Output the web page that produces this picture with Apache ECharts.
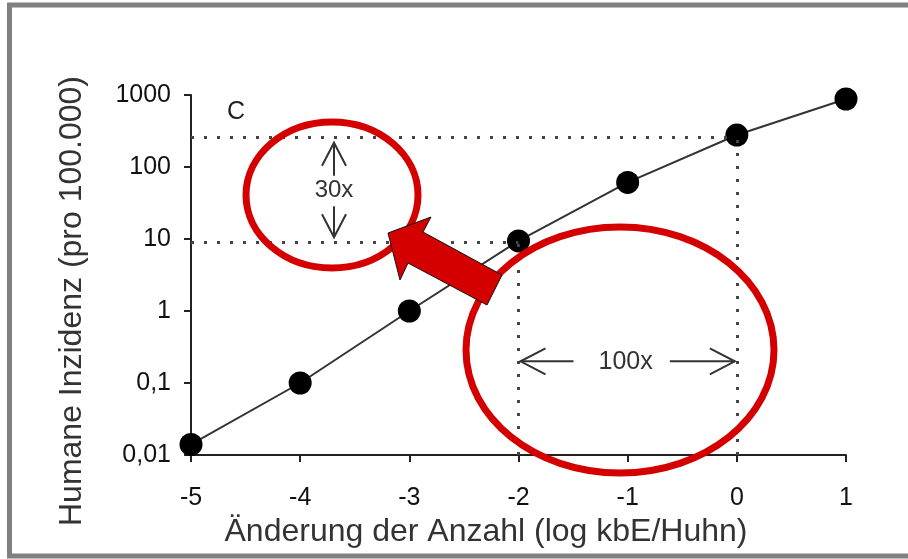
<!DOCTYPE html>
<html>
<head>
<meta charset="utf-8">
<script src="https://cdn.jsdelivr.net/npm/echarts@6/dist/echarts.min.js"></script>
<style>
html, body { margin: 0; padding: 0; background: #fff; }
#main { width: 908px; height: 559px; }
</style>
</head>
<body>
<div id="main"></div>
<script>
// Daten
var xValues = [-5, -4, -3, -2, -1, 0, 1];
var incidence = [0.014, 0.1, 1, 9.4, 61, 278, 880];
var yTickLabels = ['0,01', '0,1', '1', '10', '100', '1000'];
var refHigh = 255;      // obere gepunktete Linie
var refLow = 9;         // untere gepunktete Linie
var refXHigh = 0;
var refXLow = -2;
var arrow30xAt = -3.69; // x-Position des 30x-Pfeils
var arrow100xAt = 0.2;  // y-Position des 100x-Pfeils
var xTitle = 'Änderung der Anzahl (log kbE/Huhn)';
var yTitle = 'Humane Inzidenz (pro 100.000)';

var font = '"Liberation Sans", Arial, sans-serif';
var red = '#d40000';
var dotted = { color: '#444', width: 3, type: [3, 10], cap: 'butt' };

var chart = echarts.init(document.getElementById('main'));

chart.setOption({
    backgroundColor: '#fff',
    animation: false,
    grid: { left: 191, right: 62, top: 95, bottom: 104 },
    xAxis: {
        type: 'value', min: -5, max: 1, interval: 1,
        axisLine: { onZero: false, lineStyle: { color: '#222', width: 2 } },
        axisTick: { length: 7, lineStyle: { color: '#222', width: 2 } },
        axisLabel: { color: '#111', fontSize: 25, fontFamily: font, margin: 31 },
        splitLine: { show: false }
    },
    yAxis: {
        type: 'log', logBase: 10, min: 0.01, max: 1000,
        axisLine: { show: true, onZero: false, lineStyle: { color: '#222', width: 2 } },
        axisTick: { show: true, length: 7, lineStyle: { color: '#222', width: 2 } },
        axisLabel: {
            color: '#111', fontSize: 25, fontFamily: font, margin: 20,
            formatter: function (v) {
                return yTickLabels[Math.round(Math.log10(v)) + 2];
            }
        },
        splitLine: { show: false }
    },
    series: [{
        type: 'line',
        data: xValues.map(function (x, i) { return [x, incidence[i]]; }),
        symbol: 'circle',
        symbolSize: 23,
        itemStyle: { color: '#000' },
        lineStyle: { color: '#333', width: 2 },
        z: 3,
        markLine: {
            silent: true,
            symbol: 'none',
            label: { show: false },
            lineStyle: dotted,
            data: [
                [{ coord: [-5, refHigh] }, { coord: [refXHigh, refHigh] }],
                [{ coord: [refXHigh, 0.01] }, { coord: [refXHigh, refHigh] }],
                [{ coord: [-5, refLow] }, { coord: [refXLow, refLow] }],
                [{ coord: [refXLow, 0.01] }, { coord: [refXLow, refLow] }]
            ]
        }
    }]
});

function px(x, y) {
    return chart.convertToPixel({ gridIndex: 0 }, [x, y]);
}

var ink = { stroke: '#333', lineWidth: 2, fill: null };
var g = [];

// 30x Pfeile
var top30 = px(arrow30xAt, refHigh), bot30 = px(arrow30xAt, refLow);
var ax = top30[0], tTip = top30[1] + 5, bTip = bot30[1] - 5;
g.push({ type: 'polyline', shape: { points: [[ax, tTip], [ax, tTip + 33]] }, style: ink, z: 50 });
g.push({ type: 'polyline', shape: { points: [[ax - 12, tTip + 23], [ax, tTip], [ax + 12, tTip + 23]] }, style: ink, z: 50 });
g.push({ type: 'polyline', shape: { points: [[ax, bTip], [ax, bTip - 31]] }, style: ink, z: 50 });
g.push({ type: 'polyline', shape: { points: [[ax - 12, bTip - 23], [ax, bTip], [ax + 12, bTip - 23]] }, style: ink, z: 50 });
g.push({ type: 'text', x: ax, y: (tTip + bTip) / 2,
    style: { text: '30x', fill: '#333', font: '24px ' + font, align: 'center', verticalAlign: 'middle' }, z: 50 });

// 100x Pfeile
var l100 = px(refXLow, arrow100xAt), r100 = px(refXHigh, arrow100xAt);
var ay = l100[1], lTip = l100[0] + 2, rTip = r100[0] - 2;
g.push({ type: 'polyline', shape: { points: [[lTip, ay], [lTip + 53, ay]] }, style: ink, z: 50 });
g.push({ type: 'polyline', shape: { points: [[lTip + 25, ay - 13], [lTip, ay], [lTip + 25, ay + 13]] }, style: ink, z: 50 });
g.push({ type: 'polyline', shape: { points: [[rTip, ay], [rTip - 65, ay]] }, style: ink, z: 50 });
g.push({ type: 'polyline', shape: { points: [[rTip - 25, ay - 13], [rTip, ay], [rTip - 25, ay + 13]] }, style: ink, z: 50 });
g.push({ type: 'text', x: (lTip + rTip) / 2 - 2, y: ay + 1,
    style: { text: '100x', fill: '#333', font: '25px ' + font, align: 'center', verticalAlign: 'middle' }, z: 50 });

// Panel-Buchstabe
g.push({ type: 'text', x: 236, y: 112,
    style: { text: 'C', fill: '#222', font: '25px ' + font, align: 'center', verticalAlign: 'middle' }, z: 50 });

// rote Hervorhebungen
g.push({ type: 'ellipse', shape: { cx: 332, cy: 195, rx: 86, ry: 73 },
    style: { fill: null, stroke: red, lineWidth: 7 }, z: 60 });
g.push({ type: 'ellipse', shape: { cx: 620, cy: 350, rx: 154, ry: 123 },
    style: { fill: null, stroke: red, lineWidth: 7 }, z: 60 });
g.push({ type: 'polygon',
    shape: { points: [[388, 233], [431, 217], [423, 232], [502, 275], [487, 305], [408, 263], [400, 280]] },
    style: { fill: red, stroke: '#111', lineWidth: 1 }, z: 70 });

// Achsentitel
g.push({ type: 'text', x: 486, y: 532,
    style: { text: xTitle, fill: '#333', font: '32px ' + font, align: 'center', verticalAlign: 'middle' }, z: 50 });
g.push({ type: 'text', x: 72, y: 301, rotation: Math.PI / 2,
    style: { text: yTitle, fill: '#333', font: '32px ' + font, align: 'center', verticalAlign: 'middle' }, z: 50 });

// Rahmen
g.push({ type: 'rect', shape: { x: 9.5, y: 5, width: 1000, height: 551 },
    style: { fill: null, stroke: '#808080', lineWidth: 5 }, z: 80 });

chart.setOption({ graphic: g });
</script>
</body>
</html>
